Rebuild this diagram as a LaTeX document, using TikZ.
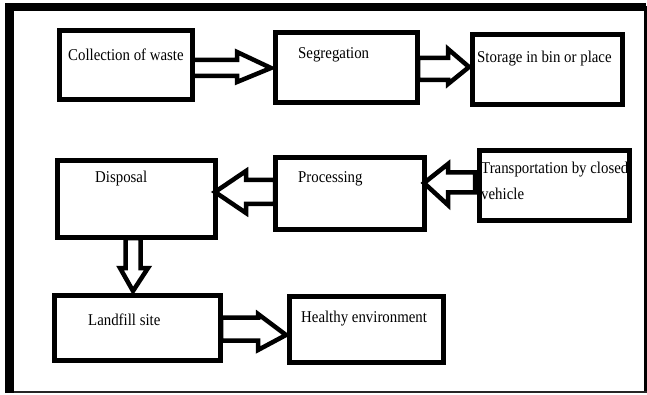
\documentclass[tikz,border=0pt]{standalone}
\usepackage{fontspec}
\setmainfont{Liberation Serif}[FakeStretch=0.9]
\begin{document}
\begin{tikzpicture}[x=1pt,y=-1pt,
  box/.style={draw=black, line width=5pt, rectangle, inner sep=0pt},
  barrow/.style={draw=black, fill=white, line width=4.5pt, line join=miter},
  lbl/.style={anchor=base west, inner sep=0pt, font=\fontsize{16.5}{26}\selectfont}]
\useasboundingbox (0,0) rectangle (647,395);
% outer frame
\draw[line width=3pt] (9,8) -- (645.5,8) -- (645.5,392);
\draw[line width=2.5pt, black!85] (9,392) -- (647,392);
\fill[black] (5,3) rectangle (645.5,11);
\fill[black] (5,3) rectangle (14,393);
% arrows
\draw[barrow] (192.5,60) -- (237,60) -- (237,52) -- (271,68) -- (237,82) -- (237,76) -- (192.5,76) -- cycle;
\draw[barrow] (418,58) -- (448,58) -- (448,49) -- (469,67) -- (448,84) -- (448,80) -- (418,80) -- cycle;
\draw[barrow] (275,180) -- (246,180) -- (246,171) -- (215,192) -- (246,213) -- (246,204) -- (275,204) -- cycle;
\draw[barrow] (475,172.5) -- (448,172.5) -- (448,164) -- (424,183) -- (448,205) -- (448,192.5) -- (475,192.5) -- cycle;
\draw[barrow] (125.5,238) -- (125.5,268) -- (120,268) -- (133,291) -- (148,268) -- (140.5,268) -- (140.5,238) -- cycle;
\draw[barrow] (221,317.5) -- (258,317.5) -- (258,314) -- (286,335) -- (258,350) -- (258,340.5) -- (221,340.5) -- cycle;
% labels
\node[lbl] (t1) at (68,61) {Collection of waste};
\node[lbl] (t2) at (298,59) {Segregation};
\node[lbl] (t3) at (477,63) {Storage in bin or place};
\node[lbl] (t4) at (95,183) {Disposal};
\node[lbl] (t5) at (298,183) {Processing};
\node[lbl] (t6) at (481,174) {Transportation by closed};
\node[lbl] (t6b) at (481,200) {vehicle};
\node[lbl] (t7) at (88,325) {Landfill site};
\node[lbl] (t8) at (301,322) {Healthy environment};
% boxes
\node[box, minimum width=133pt, minimum height=69pt] (b1) at (126,65) {};
\node[box, minimum width=142pt, minimum height=70pt] (b2) at (346.5,67.5) {};
\node[box, minimum width=150pt, minimum height=70pt] (b3) at (547.5,69.5) {};
\node[box, minimum width=158pt, minimum height=77pt] (b4) at (136.5,199) {};
\node[box, minimum width=149pt, minimum height=72pt] (b5) at (350,193.5) {};
\node[box, minimum width=150pt, minimum height=70pt] (b6) at (554.5,185.5) {};
\node[box, minimum width=166pt, minimum height=65pt] (b7) at (137.5,328) {};
\node[box, minimum width=154pt, minimum height=66pt] (b8) at (366.5,329.5) {};
\end{tikzpicture}
\end{document}
